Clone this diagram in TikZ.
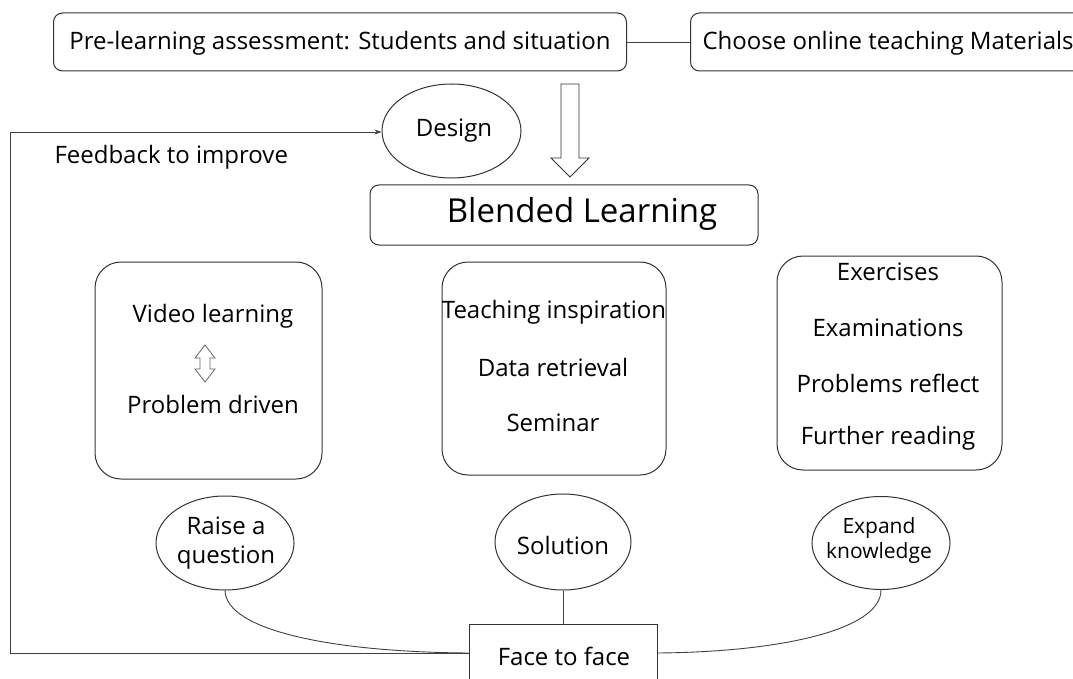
\documentclass[tikz,border=0pt]{standalone}
\usepackage{fontspec}
\setmainfont{Open Sans}
\usetikzlibrary{shapes.geometric,arrows.meta}
\begin{document}
\begin{tikzpicture}[x=1pt,y=-1pt,
  line width=1pt,
  box/.style={draw=black!80, rounded corners=9pt, inner sep=0pt},
  oval/.style={draw=black!80, ellipse, inner sep=0pt},
  lbl/.style={inner sep=0pt, font=\fontsize{24}{28}\selectfont},
  link/.style={draw=black!75, line width=0.9pt}]
\useasboundingbox (0,0) rectangle (1073,679);
\clip (0,0) rectangle (1073,679);

% top row
\node[box, minimum width=573, minimum height=58] (pre) at (340,42) {};
\node[lbl] (pret) at (340,43) {Pre-learning assessment: Students and situation};
\node[box, minimum width=420, minimum height=58, anchor=west] (mat) at (690,42) {};
\node[lbl, anchor=west] (matt) at (702,43) {Choose online teaching Materials};
\draw[link] (pre.east) -- (mat.west);

% hollow arrow into blended learning
\draw[draw=black!80, line width=0.9pt]
  (561,84) -- (579,84) -- (579,158) -- (589,158) -- (570,177) -- (551,158) -- (561,158) -- cycle;

% design and feedback
\node[oval, minimum width=139, minimum height=94] (design) at (451.5,131) {};
\node[lbl] (designt) at (454,131) {Design};
\node[lbl, anchor=west] (fb) at (54,157) {Feedback to improve};

\node[box, minimum width=388, minimum height=60] (blend) at (564,215) {};
\node[inner sep=0pt, font=\fontsize{33}{38}\selectfont] (blendt) at (582,214) {Blended Learning};

% three activity boxes
\node[box, rounded corners=26pt, minimum width=227, minimum height=217] (boxa) at (208.5,370.5) {};
\node[lbl] (va) at (213,316) {Video learning};
\node[lbl] (pd) at (213,404) {Problem driven};
\draw[draw=black!60, line width=0.8pt]
  (200,358) -- (200,369) -- (195,369) -- (205,382) -- (215,369) -- (210,369)
  -- (210,358) -- (215,358) -- (205,345) -- (195,358) -- cycle;

\node[box, rounded corners=26pt, minimum width=224, minimum height=213] (boxb) at (554,368.5) {};
\node[lbl] (ti) at (554,312) {Teaching inspiration};
\node[lbl] (dr) at (553,367) {Data retrieval};
\node[lbl] (sm) at (553,423) {Seminar};

\node[box, rounded corners=26pt, minimum width=225, minimum height=214] (boxc) at (889.5,363) {};
\node[lbl] (ex) at (888,272) {Exercises};
\node[lbl] (exm) at (888,328) {Examinations};
\node[lbl] (pr) at (888,383) {Problems reflect};
\node[lbl] (fr) at (888,438) {Further reading};

% stage ovals
\node[oval, minimum width=138, minimum height=94] (raise) at (225,543) {};
\node[lbl, align=center, font=\fontsize{24}{29}\selectfont] (raiset) at (226,543) {Raise a\\question};
\node[oval, minimum width=136, minimum height=96] (sol) at (563,542) {};
\node[lbl] (solt) at (563,545) {Solution};
\node[oval, minimum width=138, minimum height=93] (expd) at (881,543) {};
\node[lbl, align=center, font=\fontsize{21}{25}\selectfont] (expt) at (879,541) {Expand\\knowledge};

% face to face box
\node[draw=black!80, minimum width=188, minimum height=70, inner sep=0pt] (f2f) at (563,659) {};
\node[lbl] (f2ft) at (564,656) {Face to face};
\coordinate (f2fl) at (f2f.west |- 0,653);
\coordinate (f2fr) at (f2f.east |- 0,653);

\draw[link] (raise.south) .. controls (226,630) and (330,652) .. (f2fl);
\draw[link] (sol.south) -- (sol.south |- f2f.north);
\draw[link] (expd.south) .. controls (881,630) and (780,652) .. (f2fr);

% feedback loop
\coordinate (corner1) at (10,653);
\coordinate (corner2) at (10,132);
\draw[link, -{Stealth[length=7pt,width=5pt]}] (f2fl) -- (corner1) -- (corner2) -- (design.west |- 0,132);
\end{tikzpicture}
\end{document}
